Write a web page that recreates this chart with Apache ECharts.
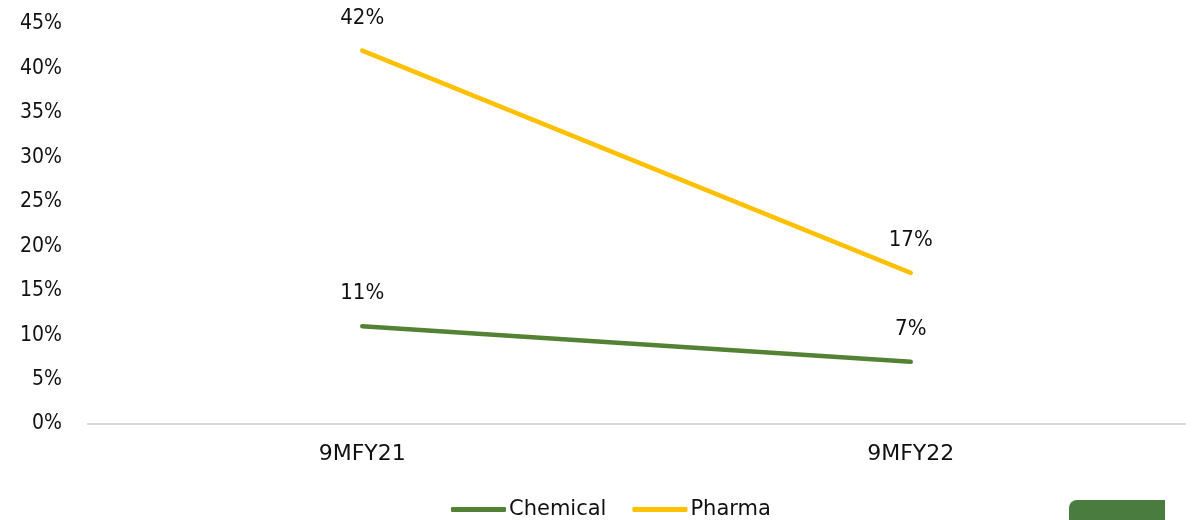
<!DOCTYPE html>
<html>
<head>
<meta charset="utf-8">
<script src="https://cdn.jsdelivr.net/npm/echarts@6/dist/echarts.min.js"></script>
<style>
  html, body { margin: 0; padding: 0; background: #fff; }
  #chart { width: 1197px; height: 520px; }
</style>
</head>
<body>
<div id="chart"></div>
<script>
// Periods on the x axis
const categories = ['9MFY21', '9MFY22'];
// Growth rates, in percent
const chemical = [11, 7];
const pharma = [42, 17];
// Y axis range and step, in percent
const yMin = 0;
const yMax = 45;
const yStep = 5;

const FONT_NARROW = '"DejaVu Sans Condensed", "DejaVu Sans", sans-serif';
const FONT = '"DejaVu Sans", sans-serif';
const TEXT = '#111';

const chart = echarts.init(document.getElementById('chart'));

function lineSeries(name, data, color) {
  return {
    name: name,
    type: 'line',
    data: data,
    symbol: 'circle',
    symbolSize: 1,
    showSymbol: true,
    lineStyle: { color: color, width: 4.5, cap: 'round' },
    itemStyle: { color: color },
    label: {
      show: true,
      position: 'top',
      distance: 21,
      formatter: p => p.value + '%',
      color: TEXT,
      fontFamily: FONT_NARROW,
      fontSize: 22
    },
    emphasis: { disabled: true },
    animation: false
  };
}

chart.setOption({
  animation: false,
  grid: { left: 88, right: 12, top: 24, bottom: 96 },
  legend: {
    bottom: 0,
    left: 446,
    padding: [0, 5, 0, 5],
    itemWidth: 55,
    itemHeight: 5,
    itemGap: 26,
    icon: 'roundRect',
    textStyle: { color: TEXT, fontFamily: FONT, fontSize: 21, padding: [0, 0, 0, -2] },
    data: ['Chemical', 'Pharma']
  },
  xAxis: {
    type: 'category',
    data: categories,
    boundaryGap: true,
    axisLine: { lineStyle: { color: '#d9d9d9', width: 2 } },
    axisTick: { show: false },
    axisLabel: { color: TEXT, fontFamily: FONT, fontSize: 22, margin: 19 }
  },
  yAxis: {
    type: 'value',
    min: yMin,
    max: yMax,
    interval: yStep,
    splitLine: { show: false },
    axisLine: { show: false },
    axisTick: { show: false },
    axisLabel: {
      color: TEXT,
      fontFamily: FONT_NARROW,
      fontSize: 21,
      margin: 26,
      formatter: v => v + '%'
    }
  },
  graphic: [{
    type: 'rect',
    left: 1069,
    top: 500,
    shape: { width: 96, height: 24, r: [8, 0, 0, 0] },
    style: { fill: '#4a7c3f' },
    silent: true
  }],
  series: [
    lineSeries('Chemical', chemical, '#548235'),
    lineSeries('Pharma', pharma, '#ffc000')
  ]
});
</script>
</body>
</html>
